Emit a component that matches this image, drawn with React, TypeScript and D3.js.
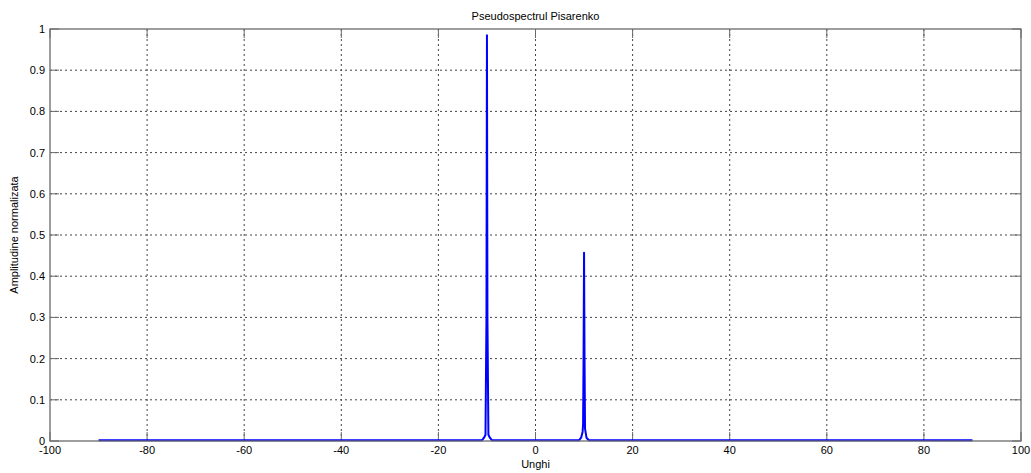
import React, { useEffect, useRef } from 'react';
import * as d3 from 'd3';

const width = 1031, height = 473;
const margin = { top: 29, right: 10, bottom: 32, left: 50 };

// angle (degrees) and normalised amplitude
const angles = [-90, -60, -30, -12, -11, -10.6, -10.3, -10.1, -10, -9.9, -9.7, -9.4, -9, 0,
    9, 9.4, 9.7, 9.8, 9.9, 10, 10.1, 10.2, 10.5, 11, 12, 30, 60, 90];
const amplitudes = [0.002, 0.002, 0.002, 0.002, 0.002, 0.008, 0.015, 0.3, 0.985, 0.3, 0.015, 0.008, 0.002, 0.002,
    0.002, 0.008, 0.022, 0.04, 0.2, 0.457, 0.2, 0.03, 0.008, 0.002, 0.002, 0.002, 0.002, 0.002];

const xTicks = [-100, -80, -60, -40, -20, 0, 20, 40, 60, 80, 100];
const yTicks = [0, 0.1, 0.2, 0.3, 0.4, 0.5, 0.6, 0.7, 0.8, 0.9, 1];

const font = 'Arial, "Liberation Sans", sans-serif';

export default function App() {
    const xScale = d3.scaleLinear().domain([-100, 100]).range([margin.left, width - margin.right]);
    const yScale = d3.scaleLinear().domain([0, 1]).range([height - margin.bottom, margin.top]);

    const points = angles.map((a, i) => [a, amplitudes[i]] as [number, number]);
    const line = d3.line<[number, number]>()
        .x(d => xScale(d[0]))
        .y(d => yScale(d[1]));

    const x0 = margin.left, x1 = width - margin.right;
    const y0 = height - margin.bottom, y1 = margin.top;
    const tickLen = 9;
    const frame = '#6a6a6a';

    return (
        <svg width={width} height={height} style={{ position: 'absolute', left: 0, top: 0, background: '#fff' }}
            fontFamily={font}>
            <rect x={0} y={0} width={width} height={height} fill="#fff" />
            {/* grid */}
            {xTicks.slice(1, -1).map(t => (
                <line key={'gx' + t} x1={xScale(t)} x2={xScale(t)} y1={y1} y2={y0}
                    stroke="#444" strokeWidth={1} strokeDasharray="2,3" />
            ))}
            {yTicks.slice(1, -1).map(t => (
                <line key={'gy' + t} x1={x0} x2={x1} y1={yScale(t)} y2={yScale(t)}
                    stroke="#444" strokeWidth={1} strokeDasharray="2,3" />
            ))}
            {/* ticks on all four sides */}
            {xTicks.map(t => (
                <g key={'tx' + t} stroke={frame}>
                    <line x1={xScale(t)} x2={xScale(t)} y1={y0} y2={y0 - tickLen} />
                    <line x1={xScale(t)} x2={xScale(t)} y1={y1} y2={y1 + tickLen} />
                </g>
            ))}
            {yTicks.map(t => (
                <g key={'ty' + t} stroke={frame}>
                    <line x1={x0} x2={x0 + tickLen} y1={yScale(t)} y2={yScale(t)} />
                    <line x1={x1} x2={x1 - tickLen} y1={yScale(t)} y2={yScale(t)} />
                </g>
            ))}
            {/* data */}
            <path d={line(points) || ''} fill="none" stroke="#0000ff" strokeWidth={2} strokeLinejoin="round" />
            {/* box */}
            <rect x={x0} y={y1} width={x1 - x0} height={y0 - y1} fill="none" stroke={frame} strokeWidth={1.3} />
            {/* tick labels */}
            {xTicks.map(t => (
                <text key={'lx' + t} x={xScale(t)} y={y0 + 13} fontSize={11} textAnchor="middle" fill="#000">{t}</text>
            ))}
            {yTicks.map(t => (
                <text key={'ly' + t} x={x0 - 5} y={yScale(t) + 4} fontSize={11} textAnchor="end" fill="#000">{t}</text>
            ))}
            <text x={(x0 + x1) / 2} y={20} fontSize={11} textAnchor="middle" fill="#000">Pseudospectrul Pisarenko</text>
            <text x={(x0 + x1) / 2} y={468} fontSize={11} textAnchor="middle" fill="#000">Unghi</text>
            <text transform={`translate(18,${(y0 + y1) / 2}) rotate(-90)`} fontSize={11} textAnchor="middle" fill="#000">Amplitudine normalizata</text>
        </svg>
    );
}
